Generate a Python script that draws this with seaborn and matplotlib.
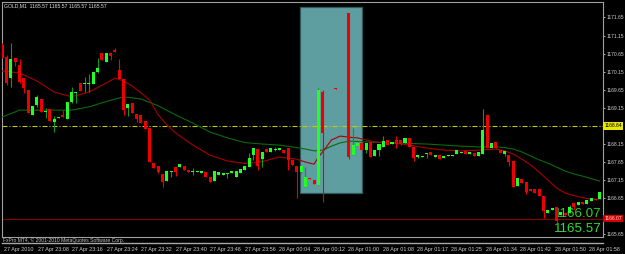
import numpy as np
import pandas as pd
import matplotlib
matplotlib.use("Agg")
import matplotlib.pyplot as plt
import matplotlib.transforms as mtransforms
from matplotlib.patches import Rectangle
import seaborn as sns

nan = np.nan
# ---------------- data ----------------
bars = list(range(139))
opens = [1170.89, 1170.56, 1169.97, 1170.53, 1170.33, 1169.97, 1169.64, 1168.95, 1169.22, 1169.39,
         1169.03, 1169.11, 1168.75, 1168.86, 1168.95, 1168.83, 1169.31, 1169.56, 1169.83, 1169.81,
         1169.81, 1169.81, 1170.14, 1170.67, 1170.42, 1170.67, 1170.75, 1170.20, 1169.95, 1169.14,
         1169.28, 1168.97, 1168.95, 1168.78, 1168.58, 1167.61, 1167.53, 1167.31, 1167.11, 1167.36,
         1167.50, 1167.50, 1167.53, 1167.42, 1167.36, 1167.36, 1167.33, 1167.36, 1167.22, 1167.11,
         1167.28, 1167.28, 1167.31, 1167.33, 1167.22, 1167.33, 1167.42, 1167.50, 1167.83, 1168.00,
         1167.72, 1168.00, 1167.92, 1167.97, 1167.97, 1167.97, 1168.03, 1167.70, 1167.53, 1167.36,
         1166.95, 1167.20, 1167.14, 1167.00, 1169.58, nan, nan, 1169.70, nan, nan,
         1171.78, 1167.83, 1168.08, 1168.17, 1167.97, 1168.20, 1167.81, 1167.97, 1168.06, 1168.25,
         1168.14, 1168.25, 1168.25, 1168.17, 1168.31, 1168.06, 1167.78, 1167.78, 1167.86, 1167.92,
         1167.78, 1167.83, 1167.75, 1167.81, 1167.81, 1167.86, 1167.89, 1167.95, 1167.86, 1167.89,
         1167.81, 1167.86, 1168.95, 1168.03, 1168.20, 1167.97, 1167.86, 1167.83, 1167.67, 1166.97,
         1167.17, 1167.08, 1166.89, 1166.89, 1166.89, 1166.70, 1166.22, 1166.31, 1166.39, 1166.17,
         1166.22, 1166.22, 1166.50, 1166.45, 1166.53, 1166.47, 1166.56, 1166.61, 1166.61]
highs = [1170.95, 1170.61, 1170.95, 1170.53, 1170.50, 1169.97, 1169.64, 1169.20, 1169.50, 1169.39,
         1169.14, 1169.11, 1168.92, 1168.89, 1169.08, 1169.31, 1169.72, 1169.58, 1169.83, 1170.00,
         1170.08, 1170.14, 1170.53, 1170.67, 1170.67, 1170.67, 1170.81, 1170.50, 1169.95, 1169.25,
         1169.28, 1168.97, 1168.95, 1168.78, 1168.58, 1167.61, 1167.53, 1167.31, 1167.39, 1167.39,
         1167.50, 1167.58, 1167.53, 1167.42, 1167.47, 1167.39, 1167.39, 1167.36, 1167.22, 1167.39,
         1167.36, 1167.33, 1167.33, 1167.39, 1167.39, 1167.45, 1167.53, 1167.89, 1168.03, 1168.00,
         1167.92, 1168.00, 1168.03, 1168.06, 1168.03, 1167.97, 1168.03, 1167.70, 1167.53, 1167.53,
         1167.50, 1167.20, 1167.14, 1169.70, 1169.64, nan, nan, 1169.70, nan, nan,
         1171.78, 1168.58, 1168.17, 1168.17, 1168.17, 1168.20, 1167.97, 1168.14, 1168.36, 1168.25,
         1168.20, 1168.36, 1168.25, 1168.31, 1168.31, 1168.06, 1167.83, 1167.81, 1167.89, 1167.92,
         1167.83, 1167.83, 1167.81, 1167.83, 1167.83, 1167.97, 1167.92, 1167.95, 1167.92, 1167.89,
         1167.92, 1169.11, 1168.95, 1168.17, 1168.20, 1167.97, 1167.95, 1167.83, 1167.67, 1167.20,
         1167.17, 1167.08, 1166.89, 1166.89, 1166.89, 1166.70, 1166.31, 1166.36, 1166.39, 1166.25,
         1166.22, 1166.45, 1166.50, 1166.53, 1166.53, 1166.58, 1166.64, 1166.61, 1166.81]
lows = [1170.53, 1169.78, 1169.72, 1170.31, 1169.83, 1169.56, 1169.00, 1168.95, 1169.17, 1169.03,
        1168.86, 1168.78, 1168.47, 1168.86, 1168.89, 1168.83, 1169.28, 1169.28, 1169.61, 1169.58,
        1169.58, 1169.81, 1170.11, 1170.47, 1170.42, 1170.47, 1170.70, 1169.95, 1168.95, 1168.92,
        1169.00, 1168.75, 1168.72, 1168.56, 1167.64, 1167.47, 1167.33, 1166.95, 1167.11, 1167.22,
        1167.25, 1167.50, 1167.42, 1167.36, 1167.28, 1167.36, 1167.33, 1167.22, 1167.08, 1167.11,
        1167.28, 1167.28, 1167.20, 1167.33, 1167.22, 1167.33, 1167.42, 1167.50, 1167.70, 1167.42,
        1167.50, 1167.92, 1167.92, 1167.95, 1167.97, 1167.89, 1167.42, 1167.56, 1166.64, 1167.33,
        1166.95, 1167.17, 1167.03, 1167.00, 1166.53, nan, nan, 1169.67, nan, nan,
        1167.72, 1167.83, 1168.08, 1167.97, 1167.89, 1167.78, 1167.81, 1167.81, 1168.06, 1168.11,
        1168.14, 1168.03, 1168.11, 1168.17, 1168.06, 1167.67, 1167.75, 1167.78, 1167.75, 1167.83,
        1167.78, 1167.72, 1167.75, 1167.81, 1167.81, 1167.86, 1167.89, 1167.86, 1167.86, 1167.81,
        1167.81, 1167.86, 1168.03, 1168.03, 1168.03, 1167.89, 1167.81, 1167.53, 1166.95, 1166.97,
        1167.06, 1166.75, 1166.83, 1166.78, 1166.70, 1166.08, 1166.22, 1166.31, 1165.95, 1166.17,
        1166.17, 1166.22, 1166.31, 1166.45, 1166.47, 1166.47, 1166.56, 1166.58, 1166.61]
closes = [1170.53, 1169.83, 1170.50, 1170.42, 1169.86, 1169.70, 1169.00, 1169.20, 1169.45, 1169.03,
          1169.06, 1168.78, 1168.83, 1168.89, 1168.89, 1169.31, 1169.58, 1169.58, 1169.61, 1169.83,
          1169.83, 1170.14, 1170.25, 1170.47, 1170.67, 1170.58, 1170.70, 1169.95, 1169.08, 1169.25,
          1169.00, 1168.83, 1168.72, 1168.56, 1167.64, 1167.47, 1167.36, 1167.08, 1167.39, 1167.39,
          1167.36, 1167.58, 1167.42, 1167.36, 1167.39, 1167.39, 1167.39, 1167.22, 1167.08, 1167.39,
          1167.36, 1167.33, 1167.33, 1167.39, 1167.39, 1167.45, 1167.53, 1167.75, 1168.03, 1167.53,
          1167.92, 1167.92, 1168.03, 1168.00, 1168.03, 1167.89, 1167.70, 1167.56, 1167.36, 1167.53,
          1167.22, 1167.17, 1167.03, 1169.64, 1168.45, nan, nan, 1169.67, nan, nan,
          1167.78, 1168.11, 1168.17, 1167.97, 1168.17, 1167.78, 1167.97, 1168.14, 1168.22, 1168.11,
          1168.20, 1168.14, 1168.14, 1168.31, 1168.06, 1167.75, 1167.83, 1167.81, 1167.89, 1167.83,
          1167.83, 1167.72, 1167.81, 1167.83, 1167.83, 1167.97, 1167.92, 1167.86, 1167.92, 1167.81,
          1167.92, 1168.53, 1168.03, 1168.17, 1168.03, 1167.89, 1167.95, 1167.64, 1166.95, 1167.20,
          1167.06, 1166.81, 1166.83, 1166.78, 1166.70, 1166.28, 1166.31, 1166.36, 1166.00, 1166.25,
          1166.17, 1166.39, 1166.39, 1166.53, 1166.47, 1166.58, 1166.64, 1166.58, 1166.81]

ma_fast_bars = [0, 4, 8, 12, 16, 20, 24, 26, 28, 30, 32, 34, 36, 38, 40, 44, 48, 52, 56, 60, 64, 68,
                70, 72, 73, 74, 76, 78, 80, 82, 86, 90, 94, 98, 102, 106, 110, 114, 116, 118, 120,
                122, 124, 126, 128, 130, 132, 134, 136, 138]
ma_fast = [1170.17, 1170.11, 1169.89, 1169.58, 1169.45, 1169.58, 1169.83, 1169.97, 1169.89, 1169.75,
           1169.56, 1169.36, 1168.95, 1168.67, 1168.45, 1168.11, 1167.83, 1167.67, 1167.60, 1167.65,
           1167.78, 1167.72, 1167.64, 1167.58, 1167.78, 1167.92, 1168.25, 1168.36, 1168.33, 1168.31,
           1168.20, 1168.17, 1168.11, 1168.03, 1167.97, 1167.95, 1167.97, 1168.00, 1167.95, 1167.86,
           1167.72, 1167.56, 1167.36, 1167.14, 1166.92, 1166.78, 1166.71, 1166.65, 1166.61, 1166.61]
ma_slow_bars = [0, 4, 8, 12, 16, 20, 24, 28, 32, 36, 40, 44, 48, 52, 56, 60, 64, 68, 70, 72, 74, 76,
                78, 80, 84, 90, 98, 106, 110, 114, 116, 118, 120, 122, 124, 126, 128, 130, 132, 134,
                136, 138]
ma_slow = [1168.89, 1169.08, 1169.08, 1169.08, 1169.08, 1169.17, 1169.32, 1169.45, 1169.39, 1169.20,
           1168.95, 1168.72, 1168.47, 1168.31, 1168.18, 1168.14, 1168.11, 1168.04, 1168.00, 1167.95,
           1167.97, 1168.08, 1168.17, 1168.22, 1168.20, 1168.17, 1168.14, 1168.08, 1168.06, 1168.06,
           1168.04, 1168.00, 1167.92, 1167.81, 1167.70, 1167.61, 1167.50, 1167.39, 1167.31, 1167.25,
           1167.18, 1167.11]

level_yellow = 1168.64
level_red = 1166.07
rect_bars = (68.75, 83.0)
rect_prices = (1166.77, 1171.95)

yticks = [1165.65, 1166.65, 1167.15, 1167.65, 1168.15, 1169.15, 1169.65, 1170.15, 1170.65,
          1171.15, 1171.65]
time_label_bars = [0, 8, 16, 24, 32, 40, 48, 56, 64, 72, 80, 88, 96, 104, 112, 120, 128, 136]
time_labels = ["27 Apr 2010", "27 Apr 23:08", "27 Apr 23:16", "27 Apr 23:24", "27 Apr 23:32",
               "27 Apr 23:40", "27 Apr 23:48", "27 Apr 23:56", "28 Apr 00:04", "28 Apr 00:12",
               "28 Apr 01:00", "28 Apr 01:08", "28 Apr 01:17", "28 Apr 01:25", "28 Apr 01:34",
               "28 Apr 01:42", "28 Apr 01:50", "28 Apr 01:58"]
title_text = "GOLD,M1  1165.57 1165.57 1165.57 1165.57"
copyright_text = "FxPro MT4, \u00a9 2001-2010 MetaQuotes Software Corp."
big_labels = ["1166.07", "1165.57"]

# ---------------- style ----------------
sns.set_theme(style="dark", rc={"axes.facecolor": "black", "figure.facecolor": "black"})
plt.rcParams["font.family"] = ["Liberation Sans", "DejaVu Sans"]
plt.rcParams["lines.scale_dashes"] = False

W, H = 625, 254
fig = plt.figure(figsize=(W / 100, H / 100), dpi=100, facecolor="black")
ax = fig.add_axes([2 / W, 1 - 237 / H, 601 / W, 235 / H], facecolor="black")
ax.set_xlim(-0.07, 138.73)
ax.set_ylim(1165.56, 1172.08)
ax.grid(False)

df = pd.DataFrame({"bar": bars, "open": opens, "high": highs, "low": lows, "close": closes}).dropna()
up = df["close"] >= df["open"]
bot = np.minimum(df["open"], df["close"])
hgt = np.maximum((df["close"] - df["open"]).abs(), 0.03)

GREEN = "#22ff22"
GREEN_WICK = "#119a11"
RED = "#ee0000"

# rectangle object
ax.add_patch(Rectangle((rect_bars[0], rect_prices[0]), rect_bars[1] - rect_bars[0],
                       rect_prices[1] - rect_prices[0], facecolor="#5f9ea0",
                       edgecolor="#2c5a5c", lw=0.9, zorder=1))

# level lines
ax.axhline(level_yellow, color="#c8c800", lw=0.8, dashes=(3.6, 1.4, 0.8, 1.4), zorder=2)
ax.axhline(level_red, color="#8a0000", lw=0.8, zorder=2)

# moving averages
sns.lineplot(x=ma_slow_bars, y=ma_slow, ax=ax, color="#0b6a0b", lw=0.8, zorder=3)
sns.lineplot(x=ma_fast_bars, y=ma_fast, ax=ax, color="#a80000", lw=0.8, zorder=3)

# big price texts (behind candles)
tr_r = mtransforms.blended_transform_factory(ax.transAxes, ax.transData)
big_family = ["Liberation Sans Narrow", "Liberation Sans"]
ax.text(0.998, 1166.11, big_labels[0], transform=tr_r, ha="right", va="baseline",
        fontsize=9.6, color="#33cc33", family=big_family, zorder=3.5)
ax.text(0.998, 1165.70, big_labels[1], transform=tr_r, ha="right", va="baseline",
        fontsize=9.6, color="#33dd33", family=big_family, zorder=3.5)

# candles
ax.vlines(df["bar"][up], df["low"][up], df["high"][up], color=GREEN_WICK, lw=0.8, zorder=4)
ax.vlines(df["bar"][~up], df["low"][~up], df["high"][~up], color=RED, lw=0.8, zorder=4)
ax.bar(df["bar"][up], hgt[up], bottom=bot[up], width=0.7, color=GREEN, linewidth=0, zorder=5)
ax.bar(df["bar"][~up], hgt[~up], bottom=bot[~up], width=0.7, color=RED, linewidth=0, zorder=5)

# axes frame
for side in ["top", "left", "right", "bottom"]:
    ax.spines[side].set_color("#a0a0a0")
    ax.spines[side].set_linewidth(0.8)
ax.set_xticks([])
ax.yaxis.tick_right()
ax.set_yticks(yticks)
ax.set_yticklabels([f"{v:.2f}" for v in yticks])
ax.tick_params(axis="y", colors="#d0d0d0", labelsize=3.6, length=1.4, width=0.6, pad=1.0,
               direction="out", right=True, left=False)
ax.set_xlabel("")
ax.set_ylabel("")

# price label boxes on the right
ax.text(1.002, level_yellow, f"{level_yellow:.2f}", transform=tr_r, ha="left", va="center",
        fontsize=3.6, color="black",
        bbox=dict(boxstyle="square,pad=0.25", facecolor="#e8e800", edgecolor="none"))
ax.text(1.002, level_red, f"{level_red:.2f}", transform=tr_r, ha="left", va="center",
        fontsize=3.6, color="#ffd0d0",
        bbox=dict(boxstyle="square,pad=0.25", facecolor="#d00000", edgecolor="none"))

# title
fig.text(4 / W, 1 - 5.5 / H, title_text, fontsize=3.7, color="#e0e0e0", ha="left", va="center")
fig.text(3 / W, 1 - 240 / H, copyright_text, fontsize=3.6, color="#c8c8c8", ha="left", va="center")

# time axis strip
ax2 = fig.add_axes([2 / W, 1 - 246 / H, 601 / W, 3 / H], facecolor="black")
ax2.set_xlim(ax.get_xlim())
ax2.set_yticks([])
for side in ["left", "right", "bottom"]:
    ax2.spines[side].set_visible(False)
ax2.spines["top"].set_color("#a8a8a8")
ax2.spines["top"].set_linewidth(1.0)
ax2.set_xticks([b - 0.8 for b in time_label_bars])
ax2.set_xticklabels(time_labels)
ax2.tick_params(axis="x", colors="#d0d0d0", labelsize=3.9, length=2.2, width=0.6,
                direction="in", pad=0.5)
offset = mtransforms.ScaledTranslation(1.5 / 100, 0, fig.dpi_scale_trans)
for lab in ax2.get_xticklabels():
    lab.set_horizontalalignment("left")
    lab.set_transform(lab.get_transform() + offset)

fig.savefig("out.png", dpi=100, facecolor="black")
